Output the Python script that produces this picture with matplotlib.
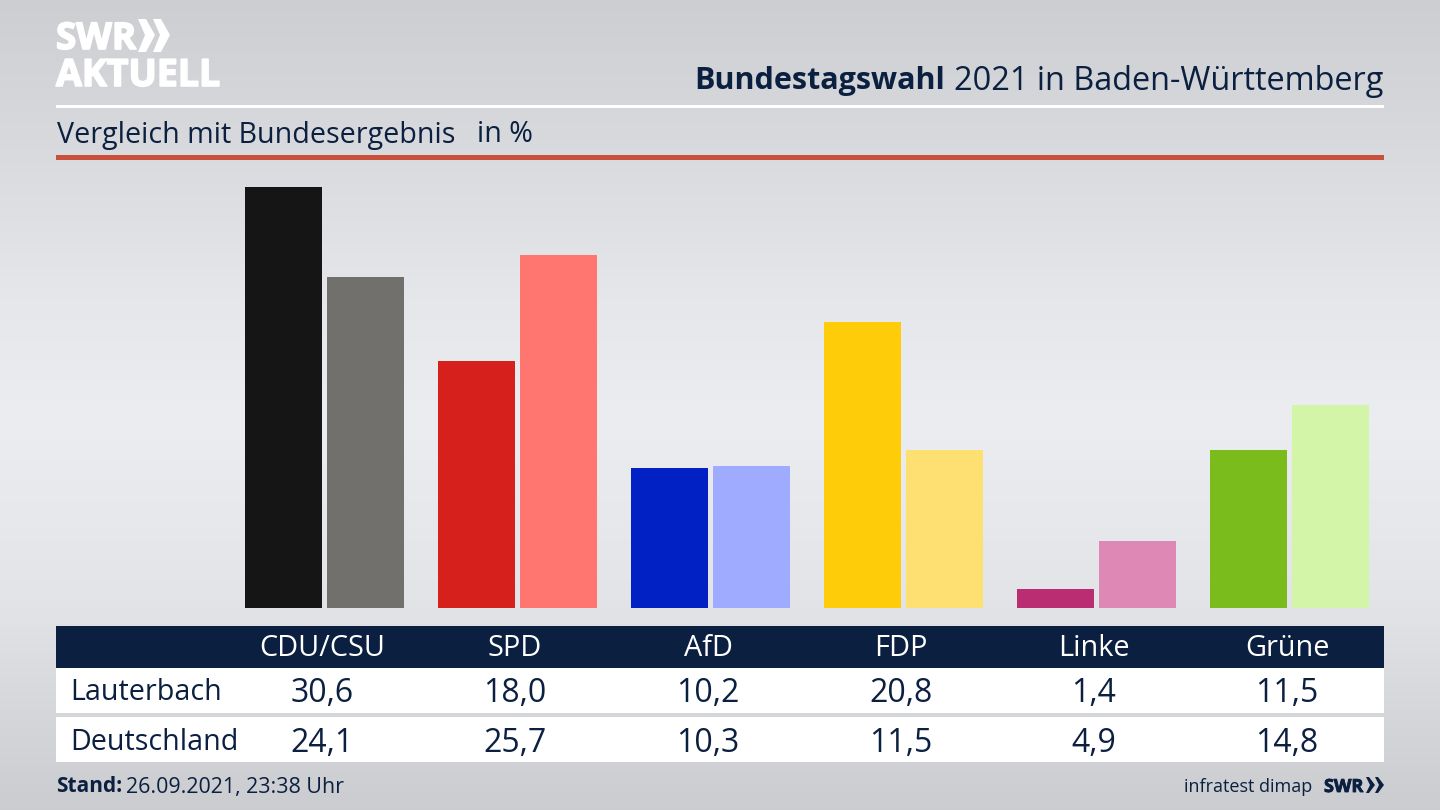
import numpy as np
import matplotlib
matplotlib.use('Agg')
import matplotlib.pyplot as plt
import matplotlib.patheffects as pe
from matplotlib.patches import Rectangle, Polygon

parteien = ['CDU/CSU', 'SPD', 'AfD', 'FDP', 'Linke', 'Grüne']
lauterbach = [30.6, 18.0, 10.2, 20.8, 1.4, 11.5]
deutschland = [24.1, 25.7, 10.3, 11.5, 4.9, 14.8]
farben_wk = ['#151515', '#d5201c', '#0221c4', '#ffcc0a', '#bb2d72', '#79bc1c']
farben_de = ['#72706d', '#ff7570', '#9eabff', '#fedf71', '#de88b6', '#d3f5a8']

NAVY = '#0b2040'
plt.rcParams['font.family'] = ['Open Sans', 'DejaVu Sans']

fig = plt.figure(figsize=(14.4, 8.1), dpi=100)

# Hintergrund + alles in Pixelkoordinaten
bg = fig.add_axes([0, 0, 1, 1])
bg.set_xlim(0, 1440)
bg.set_ylim(810, 0)
bg.axis('off')

stops_y = [0, 150, 300, 420, 600, 700, 810]
stops_v = [204, 216, 229, 235, 226, 214, 202]
v = np.interp(np.arange(810), stops_y, stops_v)
grad = np.stack([v, v + 2, v + 5], axis=1)[:, None, :] / 255
bg.imshow(np.clip(grad, 0, 1), extent=[0, 1440, 810, 0], aspect='auto', zorder=0)


def box(x, y, w, h, c):
    bg.add_patch(Rectangle((x, y), w, h, color=c, lw=0, zorder=1))


def txt(x, y, s, size, color=NAVY, ha='left', weight='normal'):
    return bg.text(x, y, s, color=color, fontsize=size, fontweight=weight, va='center', ha=ha, zorder=2)


box(56, 104.5, 1328, 3, 'white')
box(56, 155, 1328, 5, '#c8503c')
box(56, 626, 1328, 42, NAVY)
box(56, 668, 1328, 45, 'white')
box(56, 717, 1328, 45, 'white')

# Logo
for s, yy, size in (('SWR', 39, 26.5), ('AKTUELL', 76, 27)):
    t = txt(56, yy, s, size, color='white', weight='bold')
    t.set_path_effects([pe.withStroke(linewidth=1.2, foreground='white')])
for x0 in (138, 153):
    bg.add_patch(Polygon([(x0, 19), (x0 + 8, 19), (x0 + 17, 35), (x0 + 8, 52), (x0, 52), (x0 + 7, 35)],
                         color='white', lw=0, zorder=2))

# Titel
txt(1383, 81, '2021 in Baden-Württemberg', 23.4, ha='right')
txt(945, 81, 'Bundestagswahl', 22, ha='right', weight='bold')
txt(57, 135, 'Vergleich mit Bundesergebnis', 20.6)
txt(477, 134, 'in %', 20.6)

# Balken
ax = fig.add_axes([56 / 1440, (810 - 608) / 810, 1328 / 1440, 420.5 / 810])
ax.patch.set_alpha(0)
ax.axis('off')
x = np.arange(len(parteien))
ax.bar(x - 0.2124, lauterbach, width=0.399, color=farben_wk)
ax.bar(x + 0.2132, deutschland, width=0.399, color=farben_de)
ax.set_xlim(-1.393, 5.488)
ax.set_ylim(0, 30.6)

# Tabelle
for i, p in enumerate(parteien):
    cx = 322 + 193 * i
    txt(cx, 649, p, 20.8, color='white', ha='center')
    txt(cx, 694, f'{lauterbach[i]:.1f}'.replace('.', ','), 23, ha='center')
    txt(cx, 743, f'{deutschland[i]:.1f}'.replace('.', ','), 23, ha='center')
txt(70, 693, 'Lauterbach', 20.6)
txt(70, 742, 'Deutschland', 20.6)

# Fusszeile
txt(56, 787, 'Stand:', 15, weight='bold')
txt(126, 787, '26.09.2021, 23:38 Uhr', 15.4)
txt(1312, 787, 'infratest dimap', 13, ha='right')
t = txt(1324, 787, 'SWR', 13, weight='bold')
t.set_path_effects([pe.withStroke(linewidth=0.6, foreground=NAVY)])
for x0 in (1366, 1375):
    bg.add_patch(Polygon([(x0, 777), (x0 + 3, 777), (x0 + 9, 785), (x0 + 3, 793), (x0, 793), (x0 + 4, 785)],
                         color=NAVY, lw=0, zorder=2))

fig.savefig('out.png', dpi=100)
